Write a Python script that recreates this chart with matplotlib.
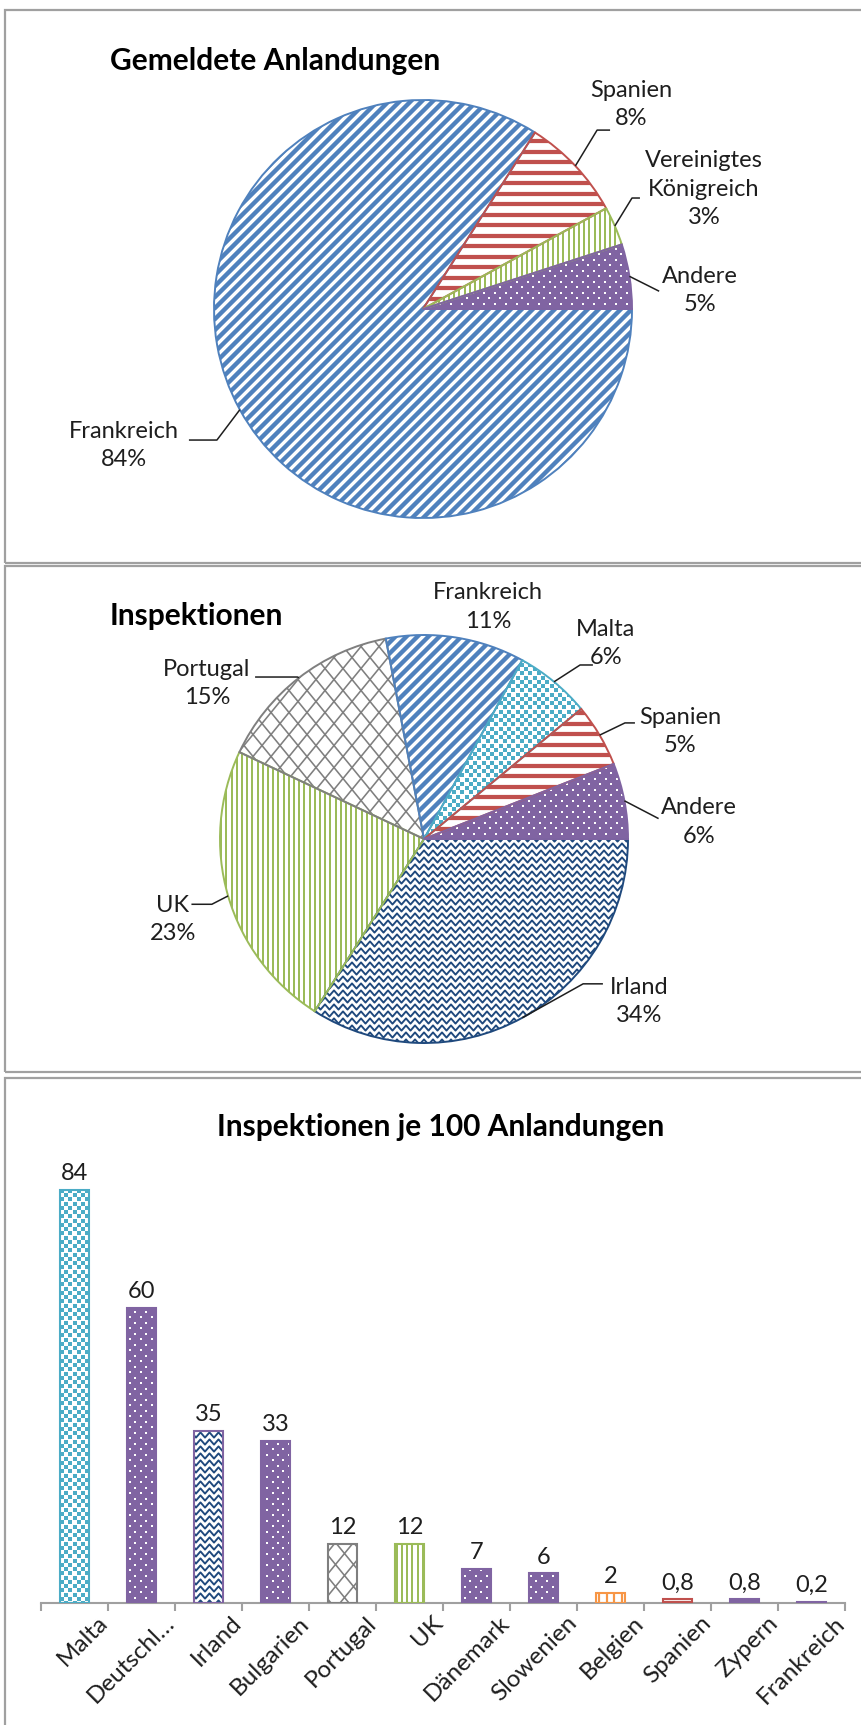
import numpy as np
import matplotlib
matplotlib.use('Agg')
import matplotlib.pyplot as plt
from matplotlib.patches import Rectangle, Wedge
from matplotlib.collections import LineCollection
from matplotlib.transforms import ScaledTranslation

plt.rcParams['font.family'] = ['Lato', 'DejaVu Sans']

# ---------------- data ----------------
landings_labels = ['Frankreich', 'Spanien', 'Vereinigtes\nKönigreich', 'Andere']
landings_share = [84, 8, 3, 5]

insp_labels = ['Irland', 'UK', 'Portugal', 'Frankreich', 'Malta', 'Spanien', 'Andere']
insp_share = [34, 23, 15, 11, 6, 5, 6]

rate_countries = ['Malta', 'Deutschl…', 'Irland', 'Bulgarien', 'Portugal', 'UK',
                  'Dänemark', 'Slowenien', 'Belgien', 'Spanien', 'Zypern', 'Frankreich']
rate_values = [84, 60, 35, 33, 12, 12, 7, 6, 2, 0.8, 0.8, 0.2]

# ---------------- styles ----------------
BLUE = '#4F81BD'; RED = '#C0504D'; GREEN = '#9BBB59'; PURPLE = '#8064A2'
TEAL = '#4BACC6'; ORANGE = '#F79646'; NAVY = '#1F497D'; GRAY = '#7F7F7F'
TXT = '#1E1E1E'
BORDER = '#A0A0A0'

# kind, pattern colour, face colour, outline colour
STY = {
    'diag':    ('diag', BLUE, 'white', BLUE),
    'hline':   ('hline', RED, 'white', RED),
    'vline':   ('vline', GREEN, 'white', GREEN),
    'dots':    ('dots', 'white', PURPLE, PURPLE),
    'squares': ('squares', TEAL, 'white', TEAL),
    'wave':    ('wave', NAVY, 'white', NAVY),
    'shingle': ('shingle', GRAY, 'white', GRAY),
    'vwide':   ('vwide', ORANGE, 'white', ORANGE),
}
land_style = ['diag', 'hline', 'vline', 'dots']
insp_style = ['wave', 'vline', 'shingle', 'diag', 'squares', 'hline', 'dots']
rate_style = ['squares', 'dots', 'wave', 'dots', 'shingle', 'vline', 'dots', 'dots',
              'vwide', 'hline', 'dots', 'dots']
rate_outline = [TEAL, PURPLE, PURPLE, PURPLE, GRAY, GREEN, PURPLE, PURPLE,
                ORANGE, RED, PURPLE, PURPLE]

W, H = 861, 1725
DPI = 100
fig = plt.figure(figsize=(W / DPI, H / DPI), dpi=DPI)
FS = 17
TFS = 21.5


def px_axes(x0, y0, x1, y1):
    return fig.add_axes([x0 / W, 1 - y1 / H, (x1 - x0) / W, (y1 - y0) / H])


def texture(ax, patch, kind, color, sx, sy, z):
    tp = patch.get_patch_transform().transform_path(patch.get_path())
    e = tp.get_extents()
    x0, x1, y0, y1 = e.x0 * sx, e.x1 * sx, e.y0 * sy, e.y1 * sy
    arts = []

    def lines(segs, lw):
        lc = LineCollection([[(a / sx, b / sy) for a, b in s] for s in segs],
                            colors=color, linewidths=lw * 0.72, zorder=z,
                            capstyle='butt')
        ax.add_collection(lc)
        arts.append(lc)

    def marks(pts, size):
        pts = np.array(pts)
        if len(pts) == 0:
            return
        sc = ax.scatter(pts[:, 0] / sx, pts[:, 1] / sy, s=(size * 0.72) ** 2,
                        marker='s', c=color, linewidths=0, zorder=z)
        arts.append(sc)

    def grid(px_, py_, stagger):
        pts = []
        for y in np.arange(np.floor(y0 / py_) * py_, y1 + py_, py_):
            off = px_ / 2 if (stagger and int(round(y / py_)) % 2) else 0
            for x in np.arange(np.floor(x0 / px_) * px_ + off, x1 + px_, px_):
                pts.append((x, y))
        return pts

    if kind == 'diag':
        p = 11.0
        segs = [[(x0, x0 + c), (x1, x1 + c)]
                for c in np.arange(np.floor((y0 - x1) / p) * p, y1 - x0 + p, p)]
        lines(segs, 4.4)
    elif kind == 'hline':
        p = 10.5
        segs = [[(x0, y), (x1, y)] for y in np.arange(np.floor(y0 / p) * p, y1 + p, p)]
        lines(segs, 4.2)
    elif kind == 'vline':
        p = 5.2
        segs = [[(x, y0), (x, y1)] for x in np.arange(np.floor(x0 / p) * p, x1 + p, p)]
        lines(segs, 2.0)
    elif kind == 'vwide':
        p = 7.5
        segs = [[(x, y0), (x, y1)] for x in np.arange(np.floor(x0 / p) * p, x1 + p, p)]
        lines(segs, 2.2)
    elif kind == 'dots':
        marks(grid(11.0, 5.5, True), 2.7)
    elif kind == 'squares':
        marks(grid(8.5, 4.25, True), 3.4)
    elif kind == 'wave':
        p, a, rs = 9.0, 2.6, 7.0
        segs = []
        for y in np.arange(np.floor(y0 / rs) * rs, y1 + rs, rs):
            xs = np.arange(np.floor(x0 / p) * p, x1 + p, p / 2)
            ys = y + a * np.where(np.round(xs / (p / 2)) % 2 == 0, 1, -1)
            segs.append(list(zip(xs, ys)))
        lines(segs, 1.9)
    elif kind == 'shingle':
        p, a, rs = 18.0, 5.5, 11.0
        segs = []
        for y in np.arange(np.floor(y0 / rs) * rs, y1 + rs, rs):
            k = int(round(y / rs)) % 2
            xs = np.arange(np.floor(x0 / p) * p, x1 + p, p / 2)
            sgn = np.where((np.round(xs / (p / 2)) + k) % 2 == 0, 1, -1)
            segs.append(list(zip(xs, y + a * sgn)))
        lines(segs, 1.6)
    for art in arts:
        art.set_clip_path(patch)


def styled_pie(ax, shares, styles, R):
    wedges, _ = ax.pie(shares, startangle=0, counterclock=False, radius=1,
                       center=(0, 0), wedgeprops=dict(linewidth=0))
    for w, st in zip(wedges, styles):
        kind, pc, fc, oc = STY[st]
        w.set_facecolor(fc)
        w.set_edgecolor('none')
        w.set_zorder(1)
        texture(ax, w, kind, pc, R, R, 2)
        ax.add_patch(Wedge(w.center, w.r, w.theta1, w.theta2, fill=False,
                           edgecolor=oc, linewidth=1.4, zorder=3))
    return wedges


def pie_labels(ax, wedges, labels, shares, layout):
    for w, lab, v, (tx, ty, pts) in zip(wedges, labels, shares, layout):
        ax.text(tx, ty, f'{lab}\n{v}%', ha='center', va='center', fontsize=FS,
                color=TXT, linespacing=1.42, zorder=5)
        if pts:
            mid = np.deg2rad((w.theta1 + w.theta2) / 2)
            xs = [np.cos(mid)] + [p[0] for p in pts]
            ys = [np.sin(mid)] + [p[1] for p in pts]
            ax.plot(xs, ys, color=TXT, lw=1.1, zorder=4, solid_capstyle='butt')


def setup_pie_axes(ax, cx, cy, R, x0, y0, x1, y1):
    ax.set_aspect('auto')
    ax.set_xlim((x0 - cx) / R, (x1 - cx) / R)
    ax.set_ylim((cy - y1) / R, (cy - y0) / R)
    ax.axis('off')


def panel(y0, y1):
    fig.add_artist(Rectangle((5 / W, 1 - y1 / H), (880 - 5) / W, (y1 - y0) / H,
                             transform=fig.transFigure, fill=False,
                             edgecolor=BORDER, linewidth=1.6))


# ---------------- panels ----------------
panel(10, 563)
panel(566, 1072)
panel(1078, 1760)

# ---------------- pie 1 ----------------
cx1, cy1, R1 = 423, 309, 209
ax1 = px_axes(6, 12, 860, 561)
w1 = styled_pie(ax1, landings_share, land_style, R1)
layout1 = [
    (-1.43, -0.655, [(-0.986, -0.627), (-1.12, -0.627)]),
    (0.995, 0.98, [(0.833, 0.856), (0.895, 0.856)]),
    (1.344, 0.574, [(1.0, 0.531), (1.038, 0.531)]),
    (1.325, 0.09, [(1.13, 0.085)]),
]
pie_labels(ax1, w1, landings_labels, landings_share, layout1)
setup_pie_axes(ax1, cx1, cy1, R1, 6, 12, 860, 561)
fig.text(110 / W, 1 - 61 / H, 'Gemeldete Anlandungen', fontsize=TFS, fontweight='bold',
         color='black', ha='left', va='center')

# ---------------- pie 2 ----------------
cx2, cy2, R2 = 424, 839, 204
ax2 = px_axes(6, 568, 860, 1070)
w2 = styled_pie(ax2, insp_share, insp_style, R2)
layout2 = [
    (1.054, -0.797, [(0.78, -0.71), (0.877, -0.71)]),
    (-1.232, -0.396, [(-1.04, -0.32), (-1.14, -0.32)]),
    (-1.064, 0.763, [(-0.62, 0.794), (-0.828, 0.794)]),
    (0.314, 1.137, None),
    (0.892, 0.958, [(0.765, 0.853), (0.828, 0.853)]),
    (1.255, 0.525, [(0.985, 0.569), (1.034, 0.569)]),
    (1.348, 0.083, [(1.15, 0.10)]),
]
pie_labels(ax2, w2, insp_labels, insp_share, layout2)
setup_pie_axes(ax2, cx2, cy2, R2, 6, 568, 860, 1070)
fig.text(110 / W, 1 - 616 / H, 'Inspektionen', fontsize=TFS, fontweight='bold',
         color='black', ha='left', va='center')

# ---------------- bar chart ----------------
YMAX = 90
bx0, bx1, base = 41, 845, 1603
pxu = 4.917
ax3 = px_axes(bx0, base - YMAX * pxu, bx1, base)
n = len(rate_values)
sx = (bx1 - bx0) / n
x = np.arange(n)
bars = ax3.bar(x, rate_values, width=0.42, linewidth=0, zorder=1)
for b, st, oc in zip(bars, rate_style, rate_outline):
    kind, pc, fc, _ = STY[st]
    b.set_facecolor(fc)
    texture(ax3, b, kind, pc, sx, pxu, 2)
    ax3.add_patch(Rectangle(b.get_xy(), b.get_width(), b.get_height(), fill=False,
                            edgecolor=oc, linewidth=1.5, zorder=3))
for xi, v in zip(x, rate_values):
    ax3.annotate(f'{v:g}'.replace('.', ','), (xi, v), xytext=(0, 7),
                 textcoords='offset points', ha='center', va='baseline',
                 fontsize=FS, color=TXT)
ax3.set_xlim(-0.5, n - 0.5)
ax3.set_ylim(0, YMAX)
for s in ['top', 'right', 'left']:
    ax3.spines[s].set_visible(False)
ax3.spines['bottom'].set_color(BORDER)
ax3.spines['bottom'].set_linewidth(1.5)
ax3.set_yticks([])
ax3.set_xticks(x)
ax3.set_xticklabels(rate_countries, rotation=45, ha='right', va='center',
                    rotation_mode='anchor', fontsize=FS + 0.5, color=TXT)
ax3.set_xticks(np.arange(-0.5, n, 1), minor=True)
ax3.tick_params(axis='x', which='major', length=0, pad=12)
ax3.tick_params(axis='x', which='minor', length=5.5, width=1.5, color=BORDER)
off = ScaledTranslation(30 / DPI, 0, fig.dpi_scale_trans)
for lab in ax3.get_xticklabels():
    lab.set_transform(lab.get_transform() + off)
ax3.set_facecolor('none')
fig.text(441 / W, 1 - 1127 / H, 'Inspektionen je 100 Anlandungen', fontsize=TFS,
         fontweight='bold', color='black', ha='center', va='center')

fig.savefig('out.png', dpi=DPI)
